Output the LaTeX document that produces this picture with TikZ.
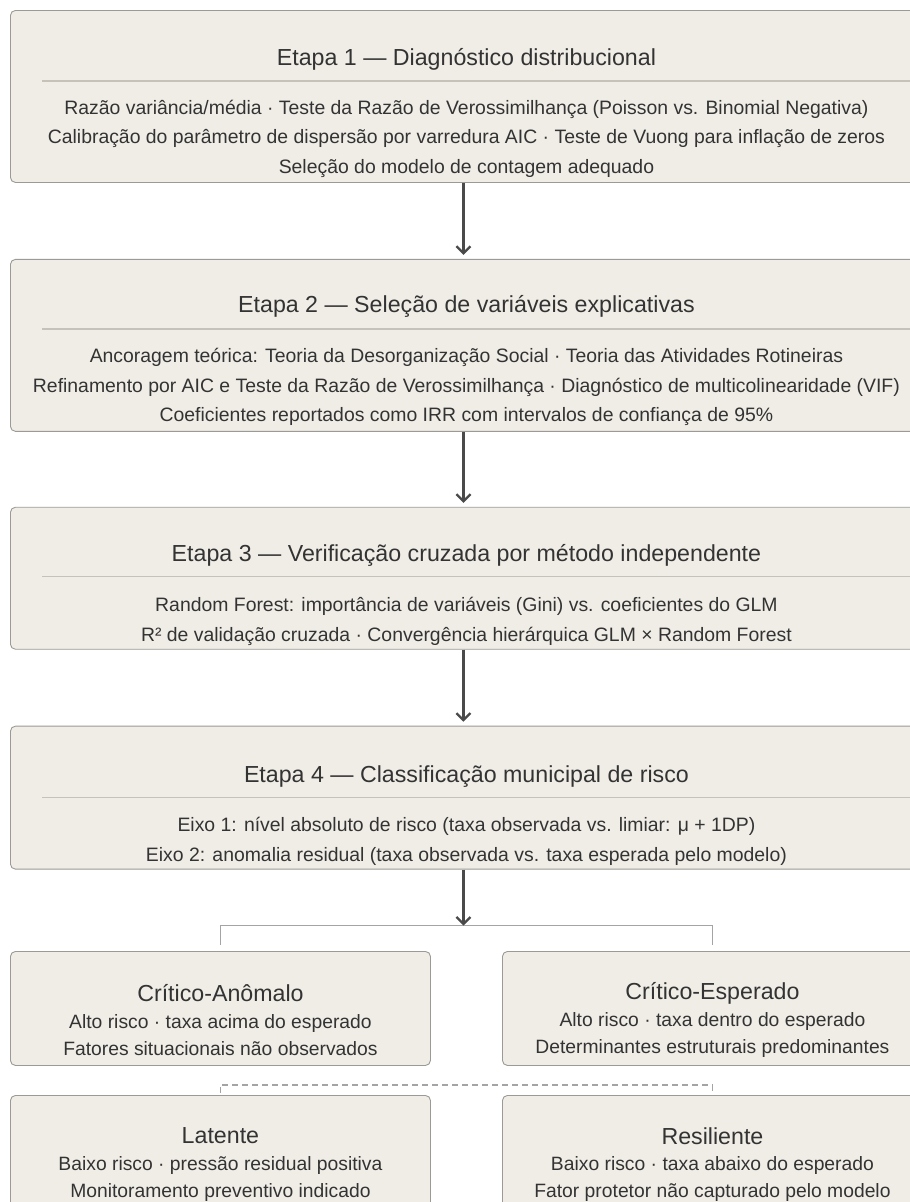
\documentclass[tikz,border=0pt]{standalone}
\usepackage{fontspec}
\setmainfont{Liberation Sans}
\usepackage{xcolor}
\usepackage{tikz}
\usetikzlibrary{positioning, arrows.meta, calc}
\definecolor{stagefill}{HTML}{F0EDE6}
\definecolor{stageborder}{HTML}{9C9A96}
\definecolor{stagerule}{HTML}{C6C2BA}
\definecolor{stagetext}{HTML}{333333}
\definecolor{flowgray}{HTML}{4A4A4A}
\definecolor{branchgray}{HTML}{A4A4A4}

\tikzset{
  stagebox/.style={fill=stagefill, draw=stageborder, rounded corners=5pt,
    line width=0.9pt, inner sep=0pt, minimum width=912pt},
  classbox/.style={fill=stagefill, draw=stageborder, rounded corners=5pt,
    line width=0.9pt, inner sep=0pt, minimum width=420pt, minimum height=114pt},
  stagetitle/.style={text=stagetext, inner sep=0pt, font=\fontsize{23.2}{27}\selectfont},
  stagebody/.style={text=stagetext, inner sep=0pt, align=center,
    font=\fontsize{19.4}{29.5}\selectfont},
  classbody/.style={text=stagetext, inner sep=0pt, align=center,
    font=\fontsize{19.3}{26.5}\selectfont},
  stagerule/.style={draw=stagerule, line width=1.2pt},
  flow/.style={draw=flowgray, line width=2.3pt, -{Straight Barb[length=7pt, width=14pt, line width=2.3pt]}},
  branch/.style={draw=branchgray, line width=1.3pt},
  latentlink/.style={branch, dash pattern=on 6pt off 4pt}
}

\begin{document}
\begin{tikzpicture}[x=1pt, y=-1pt]
  \useasboundingbox (0,0) rectangle (910,1202);

  % etapas
  \node[stagebox, minimum height=172pt, anchor=north west] (e1) at (10,10) {};
  \node[stagebox, minimum height=172pt, below=76pt of e1] (e2) {};
  \node[stagebox, minimum height=142pt, below=75pt of e2] (e3) {};
  \node[stagebox, minimum height=143pt, below=76pt of e3] (e4) {};

  \node[stagetitle] (e1t) at ($(e1.north)+(0,49)$) {Etapa 1 — Diagnóstico distribucional};
  \draw[stagerule] ($(e1.north west)+(32,71)$) -- ($(e1.north east)+(-10,71)$);
  \node[stagebody] (e1b) at ($(e1.north)+(0,128.5)$) {Razão variância/média · Teste da Razão de Verossimilhança (Poisson vs. Binomial Negativa)\\
    Calibração do parâmetro de dispersão por varredura AIC · Teste de Vuong para inflação de zeros\\
    Seleção do modelo de contagem adequado};

  \node[stagetitle] (e2t) at ($(e2.north)+(0,48)$) {Etapa 2 — Seleção de variáveis explicativas};
  \draw[stagerule] ($(e2.north west)+(32,70)$) -- ($(e2.north east)+(-10,70)$);
  \node[stagebody] (e2b) at ($(e2.north)+(0,128.5)$) {Ancoragem teórica: Teoria da Desorganização Social · Teoria das Atividades Rotineiras\\
    Refinamento por AIC e Teste da Razão de Verossimilhança · Diagnóstico de multicolinearidade (VIF)\\
    Coeficientes reportados como IRR com intervalos de confiança de 95\%};

  \node[stagetitle] (e3t) at ($(e3.north)+(0,49)$) {Etapa 3 — Verificação cruzada por método independente};
  \draw[stagerule] ($(e3.north west)+(32,70)$) -- ($(e3.north east)+(-10,70)$);
  \node[stagebody] (e3b) at ($(e3.north)+(0,114.5)$) {Random Forest: importância de variáveis (Gini) vs. coeficientes do GLM\\
    R² de validação cruzada · Convergência hierárquica GLM × Random Forest};

  \node[stagetitle] (e4t) at ($(e4.north)+(0,51)$) {Etapa 4 — Classificação municipal de risco};
  \draw[stagerule] ($(e4.north west)+(32,72)$) -- ($(e4.north east)+(-10,72)$);
  \node[stagebody] (e4b) at ($(e4.north)+(0,115.5)$) {Eixo 1: nível absoluto de risco (taxa observada vs. limiar: μ + 1DP)\\
    Eixo 2: anomalia residual (taxa observada vs. taxa esperada pelo modelo)};

  \draw[flow, shorten >=4pt] ([xshift=-3pt]e1.south) -- ([xshift=-3pt]e2.north);
  \draw[flow, shorten >=4pt] ([xshift=-3pt]e2.south) -- ([xshift=-3pt]e3.north);
  \draw[flow, shorten >=4pt] ([xshift=-3pt]e3.south) -- ([xshift=-3pt]e4.north);

  % quadrantes
  \node[classbox, anchor=north west] (ca) at (10,951) {};
  \node[classbox, anchor=north west] (ce) at (502,951) {};
  \node[classbox, anchor=north west] (la) at (10,1095) {};
  \node[classbox, anchor=north west] (re) at (502,1095) {};

  \node[stagetitle] (cat) at ($(ca.north)+(0,42)$) {Crítico-Anômalo};
  \node[classbody] (cab) at ($(ca.north)+(0,84)$) {Alto risco · taxa acima do esperado\\Fatores situacionais não observados};
  \node[stagetitle] (cet) at ($(ce.north)+(0,42)$) {Crítico-Esperado};
  \node[classbody] (ceb) at ($(ce.north)+(0,84)$) {Alto risco · taxa dentro do esperado\\Determinantes estruturais predominantes};
  \node[stagetitle] (lat) at ($(la.north)+(0,41)$) {Latente};
  \node[classbody] (lab) at ($(la.north)+(0,84)$) {Baixo risco · pressão residual positiva\\Monitoramento preventivo indicado};
  \node[stagetitle] (ret) at ($(re.north)+(0,41)$) {Resiliente};
  \node[classbody] (reb) at ($(re.north)+(0,84)$) {Baixo risco · taxa abaixo do esperado\\Fator protetor não capturado pelo modelo};

  \coordinate (split) at ($(e4.south)+(-3,56)$);
  \draw[branch] ([yshift=6pt]ca.north) |- (split) -| ([yshift=6pt]ce.north);
  \draw[flow] ([xshift=-3pt]e4.south) -- (split);
  \draw[latentlink] ([yshift=2pt]la.north) -- ([yshift=10pt]la.north) -| ([yshift=2pt]re.north);
\end{tikzpicture}
\end{document}
